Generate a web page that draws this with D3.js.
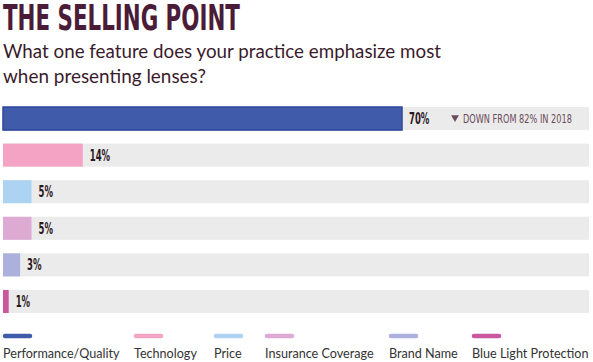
<!DOCTYPE html>
<html>
<head>
  <meta charset="utf-8">
  <title>The Selling Point</title>
  <script src="https://d3js.org/d3.v7.min.js"></script>
  <style>
    body { margin: 0; background: #fff; }
  </style>
</head>
<body>
  <script>
    var categories = ['Performance/Quality', 'Technology', 'Price', 'Insurance Coverage', 'Brand Name', 'Blue Light Protection'];
    var values = [70, 14, 5, 5, 3, 1];
    var colors = ['#3f5ba9', '#f4a3c5', '#acd3f1', '#dcaad2', '#abb0dd', '#c9589f'];
    var legendX = [3, 134, 214, 265, 389, 472];
    var note = 'DOWN FROM 82% IN 2018';

    var width = 593, height = 362;
    var condensed = '"DejaVu Sans Condensed", "DejaVu Sans", sans-serif';

    var svg = d3.select('body').append('svg')
      .attr('width', width)
      .attr('height', height);

    // squeeze a text horizontally so that it fits a given width
    function squeeze(sel, x, y, w) {
      sel.each(function() {
        var len = this.getComputedTextLength();
        d3.select(this).attr('transform', 'translate(' + x + ',' + y + ') scale(' + (w / len) + ',1)');
      });
    }

    svg.append('text')
      .style('font-family', condensed)
      .style('font-weight', 'bold')
      .style('font-size', '35px')
      .attr('fill', '#4b1c38')
      .text('THE SELLING POINT')
      .call(squeeze, 3, 30, 237);

    var subLines = ['What one feature does your practice emphasize most', 'when presenting lenses?'];
    var subWidths = [438, 203];
    svg.selectAll('text.sub')
      .data(subLines)
      .enter().append('text')
      .attr('class', 'sub')
      .attr('x', 3)
      .attr('y', function(d, i) { return 58 + i * 25; })
      .attr('textLength', function(d, i) { return subWidths[i]; })
      .attr('lengthAdjust', 'spacingAndGlyphs')
      .style('font-family', 'Lato, sans-serif')
      .style('font-size', '18.5px')
      .attr('fill', '#3a1b2c')
      .text(function(d) { return d; });

    var x = d3.scaleLinear().domain([0, 100]).range([3, 573]);
    var y = d3.scaleBand().domain(categories).range([107, 313]).paddingInner(0.37);

    var rows = svg.selectAll('g.row')
      .data(categories)
      .enter().append('g')
      .attr('class', 'row');

    rows.append('rect')
      .attr('x', 3)
      .attr('y', function(d) { return y(d); })
      .attr('width', 586)
      .attr('height', y.bandwidth())
      .attr('fill', '#ebebeb');

    rows.append('rect')
      .attr('x', x(0))
      .attr('y', function(d) { return y(d); })
      .attr('width', function(d, i) { return x(values[i]) - x(0); })
      .attr('height', y.bandwidth())
      .attr('fill', function(d, i) { return colors[i]; })
      .attr('stroke', function(d, i) { return i === 0 ? '#2c479c' : 'none'; })
      .attr('stroke-width', 1.5);

    rows.append('text')
      .attr('transform', function(d, i) {
        return 'translate(' + (x(values[i]) + 7) + ',' + (y(d) + y.bandwidth() / 2 + 5.5) + ') scale(0.63,1)';
      })
      .style('font-family', condensed)
      .style('font-weight', 'bold')
      .style('font-size', '15px')
      .attr('fill', '#2b1722')
      .text(function(d, i) { return values[i] + '%'; });

    var noteY = y(categories[0]) + y.bandwidth() / 2;
    svg.append('path')
      .attr('d', d3.symbol().type(d3.symbolTriangle).size(26))
      .attr('transform', 'translate(455,' + (noteY - 1) + ') rotate(180)')
      .attr('fill', '#6b4a5a');
    svg.append('text')
      .style('font-family', condensed)
      .style('font-size', '12px')
      .attr('fill', '#6b4a5a')
      .text(note)
      .call(squeeze, 463, noteY + 4, 109);

    var legend = svg.selectAll('g.legend')
      .data(categories)
      .enter().append('g')
      .attr('class', 'legend')
      .attr('transform', function(d, i) { return 'translate(' + legendX[i] + ',0)'; });

    legend.append('line')
      .attr('x1', 2).attr('x2', 27)
      .attr('y1', 336).attr('y2', 336)
      .attr('stroke', function(d, i) { return colors[i]; })
      .attr('stroke-width', 4.5)
      .attr('stroke-linecap', 'round');

    legend.append('text')
      .attr('x', 0).attr('y', 358)
      .style('font-family', 'Lato, sans-serif')
      .style('font-size', '12.6px')
      .attr('fill', '#333')
      .text(function(d) { return d; });
  </script>
</body>
</html>
